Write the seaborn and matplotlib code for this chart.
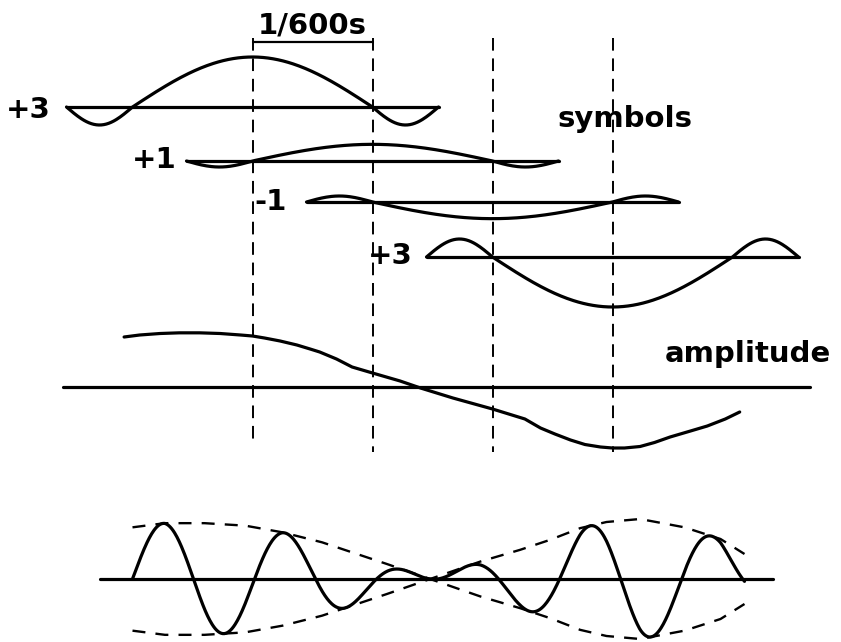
import numpy as np
import pandas as pd
import matplotlib
matplotlib.use("Agg")
import matplotlib.pyplot as plt
import seaborn as sns

# symbols, one every 1/600 s (t in symbol periods)
symbol_labels = ["+3", "+1", "-1", "+3"]
symbol_values = [3, 1, -1, -3]  # last pulse is drawn below its line in the picture
symbol_times = [0, 1, 2, 3]

# summed amplitude
amp_t = [-1.07, -0.94, -0.77, -0.61, -0.44, -0.27, -0.10, 0.0, 0.10, 0.23,
         0.37, 0.48, 0.56, 0.70, 0.83, 1.00, 1.23, 1.40, 1.67, 2.00,
         2.27, 2.40, 2.52, 2.65, 2.77, 2.90, 3.00, 3.10, 3.23, 3.35,
         3.48, 3.65, 3.79, 3.94, 4.06]
amp_v = [3.03, 3.15, 3.24, 3.28, 3.28, 3.24, 3.15, 3.09, 2.97, 2.79,
         2.55, 2.31, 2.13, 1.71, 1.23, 0.87, 0.39, -0.03, -0.63, -1.29,
         -1.89, -2.43, -2.79, -3.15, -3.42, -3.57, -3.63, -3.63, -3.54, -3.30,
         -2.97, -2.61, -2.31, -1.89, -1.47]

# envelope of the modulated carrier (dashed)
env_t = [-1.0, -0.73, -0.40, -0.06, 0.25, 0.58, 1.12, 1.48, 1.90, 2.23,
         2.48, 2.73, 2.95, 3.23, 3.60, 3.90, 4.10]
env_v = [3.1, 3.35, 3.35, 3.2, 2.8, 2.2, 0.9, 0.0, -1.05, -1.75,
         -2.35, -3.05, -3.42, -3.6, -3.1, -2.4, -1.5]

carrier_period = 1.017
carrier_peak = -0.746

sns.set_style("white")
plt.rcParams["font.family"] = ["DejaVu Sans"]
plt.rcParams["text.color"] = "black"

# pixel layout of the picture
PX_T = 120.0
PX_U = 50 / 3
X0 = 252.5
Y0 = 387.5


def tx(px):
    return (px - X0) / PX_T


def uy(py):
    return (Y0 - py) / PX_U


def pulse(t):
    a = np.abs(t)
    side = -0.36 * np.sin(np.pi * (a - 1) / 0.55)
    return np.where(a <= 1, np.cos(np.pi * t / 2), side)


fig = plt.figure(figsize=(8.41, 6.42), dpi=100)
ax = fig.add_axes([0, 0, 1, 1])
ax.set_xlim(tx(0), tx(841))
ax.set_ylim(uy(642), uy(0))
ax.axis("off")

LW = 2.3
FS = 21
row_y = [uy(107), uy(161), uy(202), uy(257)]
label_x = [tx(51), tx(177), tx(287), tx(413)]
label_y = [uy(118), uy(168), uy(210), uy(264)]
half = 1.55

for lab, val, t0, base, lx, ly in zip(symbol_labels, symbol_values, symbol_times,
                                      row_y, label_x, label_y):
    tt = np.linspace(-half, half, 300)
    df = pd.DataFrame({"t": t0 + tt, "y": base + val * pulse(tt)})
    sns.lineplot(data=df, x="t", y="y", color="black", lw=LW, ax=ax,
                 sort=False, estimator=None)
    ax.plot([t0 - half, t0 + half], [base, base], color="black", lw=LW)
    ax.text(lx, ly, lab, ha="right", va="baseline", fontsize=FS,
            fontweight="bold", color="black")

# amplitude
sns.lineplot(x=amp_t, y=amp_v, color="black", lw=LW, ax=ax, sort=False, estimator=None)
ax.plot([tx(63), tx(810)], [0, 0], color="black", lw=LW)

# modulated carrier
yb = uy(579)
ax.plot([tx(100), tx(773)], [yb, yb], color="black", lw=LW)
tc = np.linspace(env_t[0], env_t[-1], 800)
env = np.interp(tc, env_t, env_v)
car = pd.DataFrame({"t": tc, "y": yb + env * np.cos(2 * np.pi * (tc - carrier_peak) / carrier_period)})
sns.lineplot(data=car, x="t", y="y", color="black", lw=LW, ax=ax, sort=False, estimator=None)
for s in (1, -1):
    ax.plot(env_t, [yb + s * v for v in env_v], color="black", lw=1.7,
            ls=(0, (5.5, 4.3)))

# symbol boundaries
bottoms = [442, 452, 452, 452]
for t, b in zip(symbol_times, bottoms):
    ax.plot([t, t], [uy(38), uy(b)], color="black", lw=1.4, ls=(0, (6.5, 4)))

ax.plot([0, 1], [uy(42), uy(42)], color="black", lw=1.6)
ax.text(0.5, uy(33), "1/600s", ha="center", va="baseline", fontsize=FS,
        fontweight="bold", color="black")
ax.text(tx(557), uy(127), "symbols", ha="left", va="baseline", fontsize=FS,
        fontweight="bold", color="black")
ax.text(tx(665), uy(362), "amplitude", ha="left", va="baseline", fontsize=FS,
        fontweight="bold", color="black")

fig.savefig("out.png", dpi=100)
